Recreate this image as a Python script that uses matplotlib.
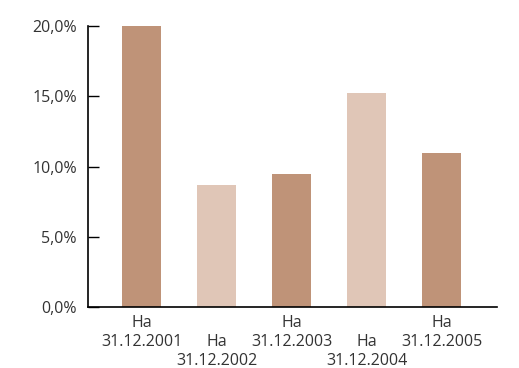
import matplotlib.pyplot as plt
from matplotlib.ticker import FuncFormatter

plt.rcParams['font.family'] = ['Open Sans', 'DejaVu Sans']

# данные
years = ['31.12.2001', '31.12.2002', '31.12.2003', '31.12.2004', '31.12.2005']
values = [20.0, 8.7, 9.45, 15.2, 10.95]
colors = ['#BF9378', '#E0C6B7', '#BF9378', '#E0C6B7', '#BF9378']

labels = []
for i, y in enumerate(years):
    if i % 2 == 0:
        labels.append('Ha\n' + y)
    else:
        labels.append('\nHa\n' + y)

fig = plt.figure(figsize=(5.19, 3.68), dpi=100)
ax = fig.add_axes([0.1696, 0.1658, 0.788, 0.7635])

x = list(range(len(values)))
ax.bar(x, values, width=0.52, color=colors)

ax.set_xlim(-0.713, 4.74)
ax.set_ylim(0, 20)
ax.set_yticks([0, 5, 10, 15, 20])
ax.yaxis.set_major_formatter(FuncFormatter(lambda v, p: f'{v:.1f}'.replace('.', ',') + '%'))
ax.set_xticks(x)
ax.set_xticklabels(labels, multialignment='center', linespacing=1.24)

for s in ['top', 'right']:
    ax.spines[s].set_visible(False)
for s in ['left', 'bottom']:
    ax.spines[s].set_linewidth(1.2)

ax.tick_params(axis='y', direction='in', length=8, width=1, pad=8, labelsize=11.5, labelcolor='#333333')
ax.tick_params(axis='x', length=0, pad=6, labelsize=11.5, labelcolor='#333333')

fig.savefig('out.png', dpi=100)
